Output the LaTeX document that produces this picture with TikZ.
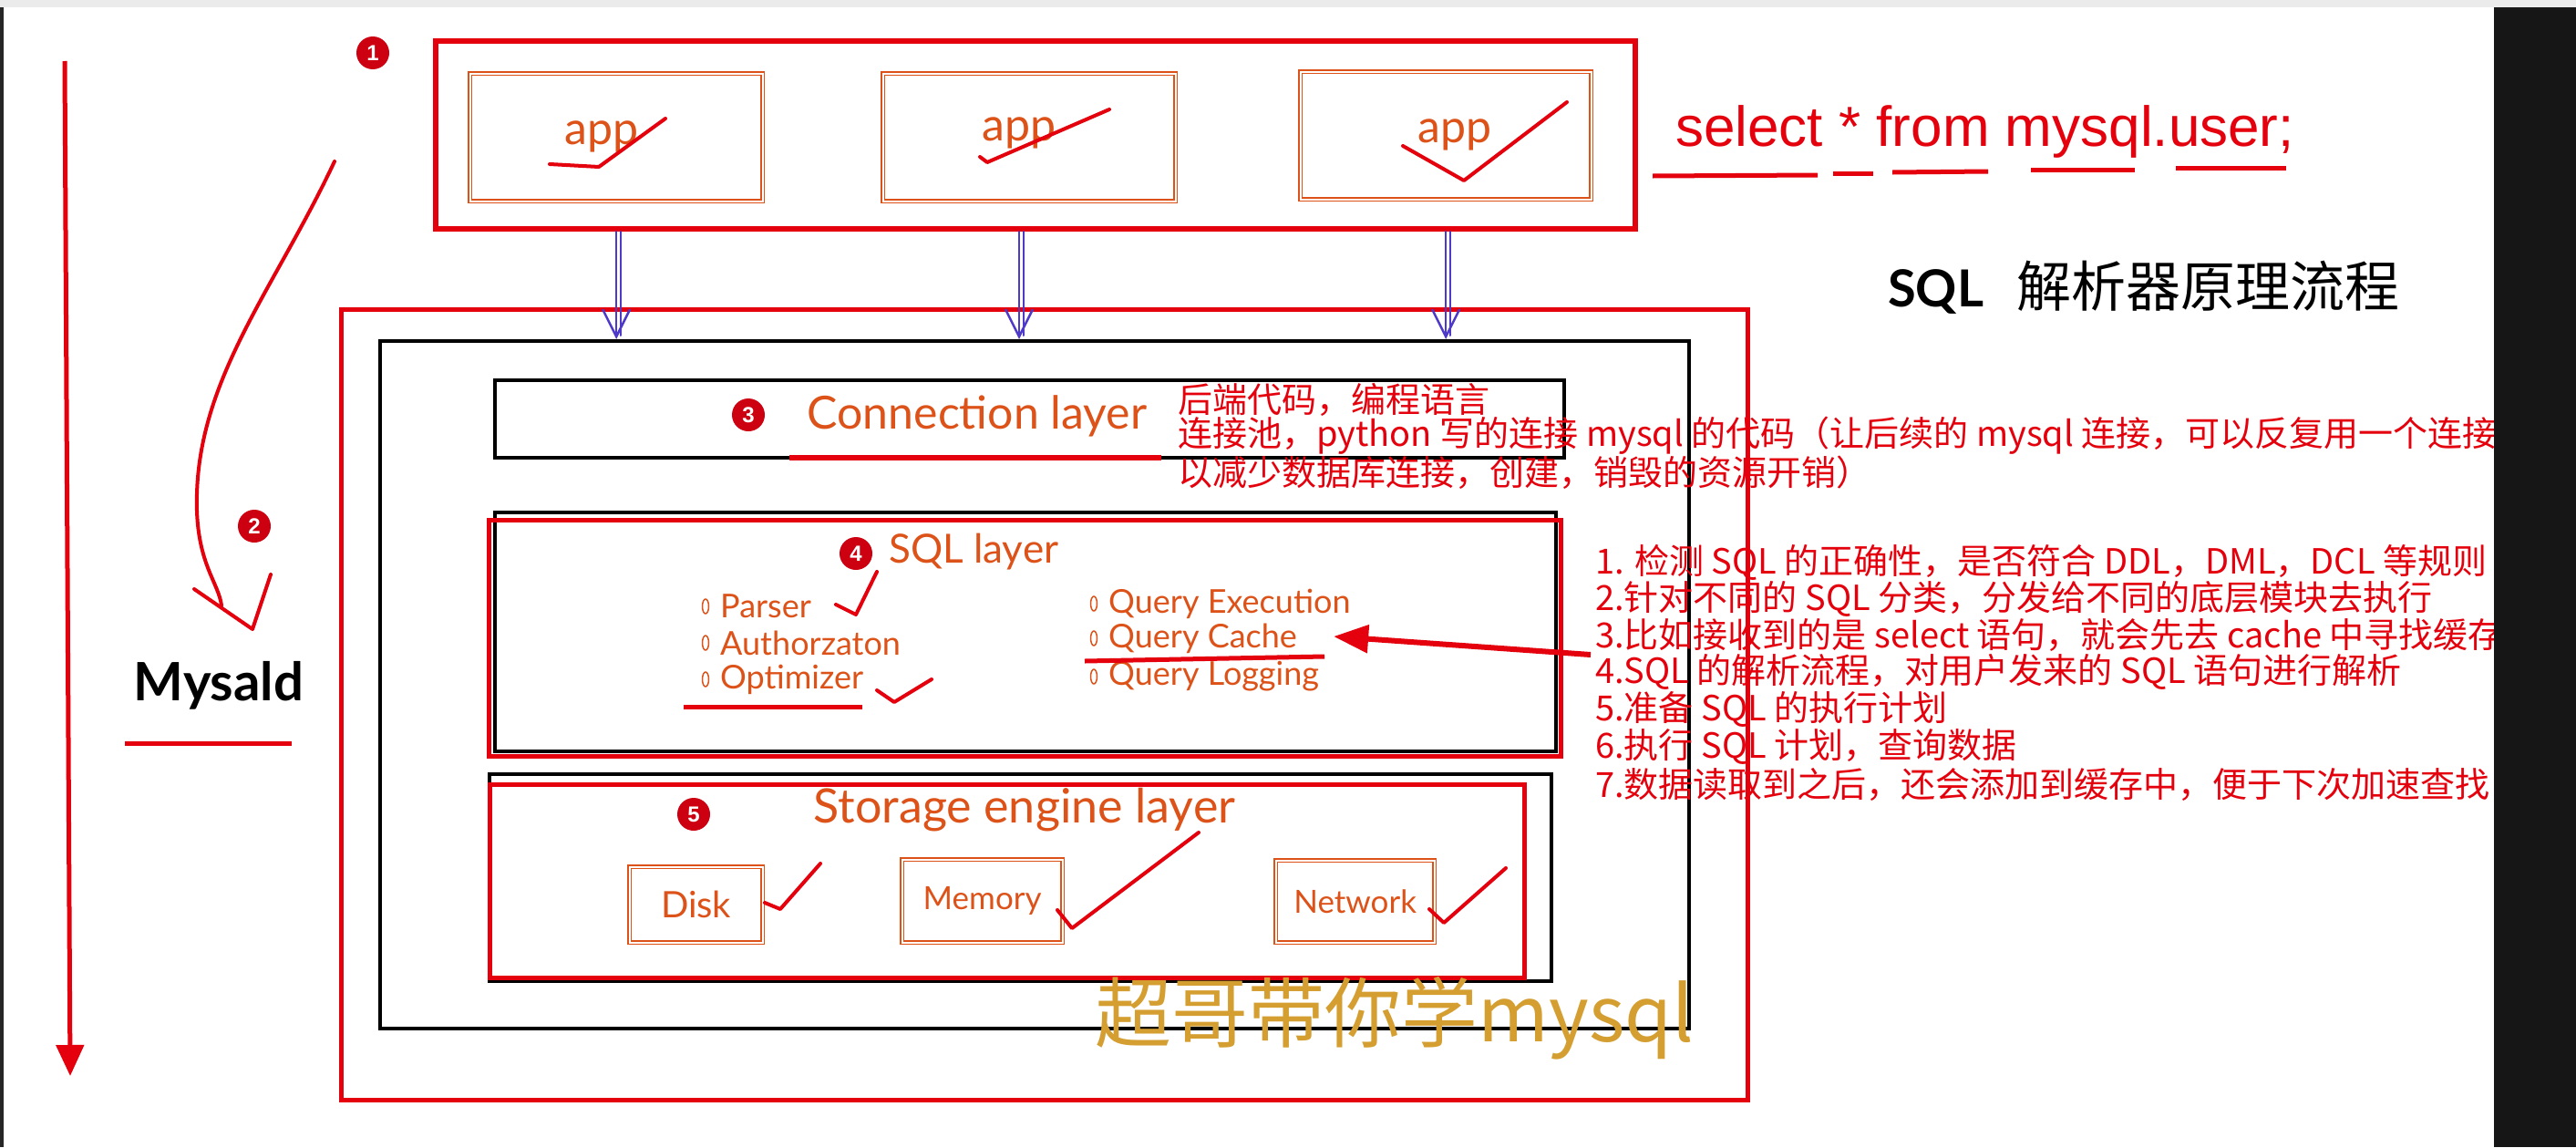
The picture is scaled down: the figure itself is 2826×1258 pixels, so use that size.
\documentclass[tikz,border=0pt]{standalone}
\usepackage{fontspec}
\setmainfont{Liberation Sans}
\newfontfamily\cjk{Noto Sans CJK SC}
\newfontfamily\hand{Lato}
\usetikzlibrary{arrows.meta,calc}

\definecolor{inkred}{RGB}{228,0,12}
\definecolor{numred}{RGB}{205,0,18}
\definecolor{penorange}{RGB}{220,82,24}
\definecolor{penblue}{RGB}{78,58,200}
\definecolor{gold}{RGB}{212,158,48}
\definecolor{panel}{RGB}{22,22,22}

\tikzset{
	redbox/.style={draw=inkred, line width=6pt, inner sep=0pt, anchor=north west},
	blackbox/.style={draw=black, line width=4pt, inner sep=0pt, anchor=north west},
	penbox/.style={draw=penorange, line width=1.3pt, double=white, double distance=2.2pt,
		inner sep=0pt, anchor=north west, text=penorange, font=\hand\fontsize{35}{35}\selectfont},
	pentext/.style={text=penorange, inner sep=0pt, font=\hand\fontsize{42}{42}\selectfont},
	listitem/.style={text=penorange, inner sep=0pt, anchor=west, font=\hand\fontsize{36}{36}\selectfont},
	num/.style={circle, fill=numred, text=white, inner sep=0pt, minimum size=36pt,
		font=\bfseries\fontsize{24}{24}\selectfont},
	note/.style={text=inkred, inner sep=0pt, anchor=west, font=\cjk\fontsize{38}{38}\selectfont},
	tick/.style={draw=inkred, line width=4pt, line cap=round, line join=round},
	underl/.style={draw=inkred, line width=5pt},
	bluearr/.style={draw=penblue, line width=2.2pt, line cap=round,
		-{Straight Barb[length=30pt,width=30pt,line width=2.5pt]},
		postaction={draw=penblue, line width=2pt, arrows=-, shorten >=4pt, transform canvas={xshift=5pt}}}
}

\begin{document}
\begin{tikzpicture}[x=1pt, y=-1pt]
	\useasboundingbox (0,0) rectangle (2826,1258);
	\fill[white] (0,0) rectangle (2826,1258);

	% flow arrow on the left
	\coordinate (flowtop) at (71,67);
	\coordinate (flowend) at (77,1180);
	\draw[inkred, line width=5pt, -{Triangle[length=34pt,width=30pt]}] (flowtop) -- (flowend);

	% clients
	\node[redbox, minimum width=1316pt, minimum height=206pt] (apps) at (475,42) {};
	\node[num] (n1) at (409,58) {1};
	\node[penbox, minimum width=321pt, minimum height=140pt] (app1) at (515,80) {};
	\node[penbox, minimum width=321pt, minimum height=140pt] (app2) at (968,80) {};
	\node[penbox, minimum width=319pt, minimum height=140pt] (app3) at (1426,78) {};
	\node[pentext, font=\hand\fontsize{50}{50}\selectfont] (app1txt) at (660,150) {app};
	\node[pentext, font=\hand\fontsize{50}{50}\selectfont] (app2txt) at (1118,146) {app};
	\node[pentext, font=\hand\fontsize{50}{50}\selectfont] (app3txt) at (1596,148) {app};
	\draw[tick] (603,180) -- (657,183) -- (730,130);
	\draw[tick] (1075,172) -- (1083,178) -- (1217,120);
	\draw[tick] (1539,160) -- (1606,198) -- (1719,112);

	% statement
	\node[anchor=base west, inner sep=0pt, text=inkred, font=\fontsize{62}{62}\selectfont] (stmt) at (1838,160) {select * from mysql.user;};
	\draw[underl] (1813,193) -- (1994,192);
	\draw[underl] (2011,190) -- (2055,190);
	\draw[underl] (2076,189) -- (2181,188);
	\draw[underl] (2228,186) -- (2342,186);
	\draw[underl] (2387,184) -- (2508,184);

	\node[anchor=west, inner sep=0pt] (title) at (2071,315) {{\hand\bfseries\fontsize{56}{56}\selectfont SQL}\hspace{36pt}{\cjk\fontsize{60}{60}\selectfont 解析器原理流程}};

	% server
	\node[redbox, line width=5pt, minimum width=1543pt, minimum height=867pt] (server) at (372,337) {};
	\node[blackbox, minimum width=1436pt, minimum height=754pt] (core) at (415,372) {};
	\draw[bluearr] (apps.south -| app1) -- (core.north -| app1);
	\draw[bluearr] (apps.south -| app2txt) -- (core.north -| app2txt);
	\draw[bluearr] (apps.south -| app3) -- (core.north -| app3);

	% connection layer
	\node[blackbox, minimum width=1173pt, minimum height=85pt] (conn) at (541,415) {};
	\node[num] (n3) at (821,455) {3};
	\node[pentext, font=\hand\fontsize{50}{50}\selectfont] (conntxt) at (1072,456) {Connection layer};
	\draw[underl, line width=6pt] (866,502) -- (1274,502);
	\node[note] (cn1) at (1292,438) {后端代码，编程语言};
	\node[note] (cn2) at (1292,478) {连接池，python 写的连接 mysql 的代码（让后续的 mysql 连接，可以反复用一个连接信};
	\node[note] (cn3) at (1292,518) {以减少数据库连接，创建，销毁的资源开销）};

	% sql layer
	\node[blackbox, minimum width=1164pt, minimum height=262pt] (sqlback) at (541,560) {};
	\node[redbox, line width=5pt, minimum width=1176pt, minimum height=259pt] (sqlbox) at (534,568) {};
	\node[num] (n4) at (939,607) {4};
	\node[pentext, anchor=west, font=\hand\fontsize{44}{44}\selectfont] (sqltxt) at (975,605) {SQL layer};
	\foreach \y in {665,705,745} \draw[penorange, line width=1.5pt] (774,\y) ellipse (3.5 and 8);
	\foreach \y in {662,700,742} \draw[penorange, line width=1.5pt] (1200,\y) ellipse (3.5 and 8);
	\node[listitem] (parser) at (790,665) {Parser};
	\node[listitem] (auth) at (790,705) {Authorzaton};
	\node[listitem] (optim) at (790,745) {Optimizer};
	\node[listitem] (qexec) at (1216,662) {Query Execution};
	\node[listitem] (qcache) at (1216,700) {Query Cache};
	\node[listitem] (qlog) at (1216,742) {Query Logging};
	\draw[tick] (917,663) -- (939,674) -- (962,627);
	\draw[tick] (962,757) -- (981,770) -- (1022,745);
	\draw[underl] (750,775) -- (946,775);
	\draw[underl] (1190,725) -- (1453,720);
	\coordinate (cachetail) at (1745,718);
	\draw[inkred, line width=6pt, -{Triangle[length=38pt,width=30pt]}] (cachetail) -- ($(qcache.east)+(40,-2)$);

	% storage engine layer
	\node[blackbox, minimum width=1165pt, minimum height=227pt] (storeback) at (535,847) {};
	\node[redbox, line width=5pt, minimum width=1135pt, minimum height=212pt] (storebox) at (535,858) {};
	\node[num] (n5) at (761,893) {5};
	\node[pentext, font=\hand\fontsize{52}{52}\selectfont] (storetxt) at (1124,888) {Storage engine layer};
	\node[penbox, minimum width=146pt, minimum height=83pt, font=\hand\fontsize{40}{40}\selectfont] (disk) at (690,950) {Disk};
	\node[penbox, minimum width=176pt, minimum height=91pt] (memory) at (989,942) {Memory};
	\node[penbox, minimum width=174pt, minimum height=90pt] (network) at (1399,943) {Network};
	\draw[tick] (839,990) -- (856,997) -- (900,947);
	\draw[tick] (1160,998) -- (1176,1018) -- (1315,913);
	\draw[tick] (1568,997) -- (1584,1012) -- (1652,952);

	\node[text=gold, inner sep=0pt, font=\cjk\fontsize{84}{84}\selectfont] (wmark) at (1530,1117) {超哥带你学mysql};

	% notes on the sql layer
	\node[note] (s1) at (1750,617) {1. 检测 SQL 的正确性，是否符合 DDL，DML，DCL 等规则};
	\node[note] (s2) at (1750,657) {2.针对不同的 SQL 分类，分发给不同的底层模块去执行};
	\node[note] (s3) at (1750,696) {3.比如接收到的是 select 语句，就会先去 cache 中寻找缓存};
	\node[note] (s4) at (1750,737) {4.SQL 的解析流程，对用户发来的 SQL 语句进行解析};
	\node[note] (s5) at (1750,778) {5.准备 SQL 的执行计划};
	\node[note] (s6) at (1750,819) {6.执行 SQL 计划，查询数据};
	\node[note] (s7) at (1750,860) {7.数据读取到之后，还会添加到缓存中，便于下次加速查找};

	% mysqld
	\node[num] (n2) at (279,577) {2};
	\node[inner sep=0pt, font=\hand\bfseries\fontsize{58}{58}\selectfont] (mysqld) at (240,752) {Mysald};
	\draw[underl] (137,815) -- (320,815);
	\coordinate (curvetop) at (367,177);
	\coordinate (curveend) at (243,664);
	\draw[inkred, line width=4pt, line cap=round] (curvetop) .. controls (300,320) and (212,420) .. (216,560) .. controls (218,620) and (240,640) .. (curveend);
	\draw[tick] (213,646) -- (277,690) -- (297,630);

	% screen edges
	\fill[panel] (2736,8) rectangle (2826,1258);
	\fill[black!85] (0,8) rectangle (4,1258);
	\fill[black!8] (0,0) rectangle (2826,8);
\end{tikzpicture}
\end{document}
